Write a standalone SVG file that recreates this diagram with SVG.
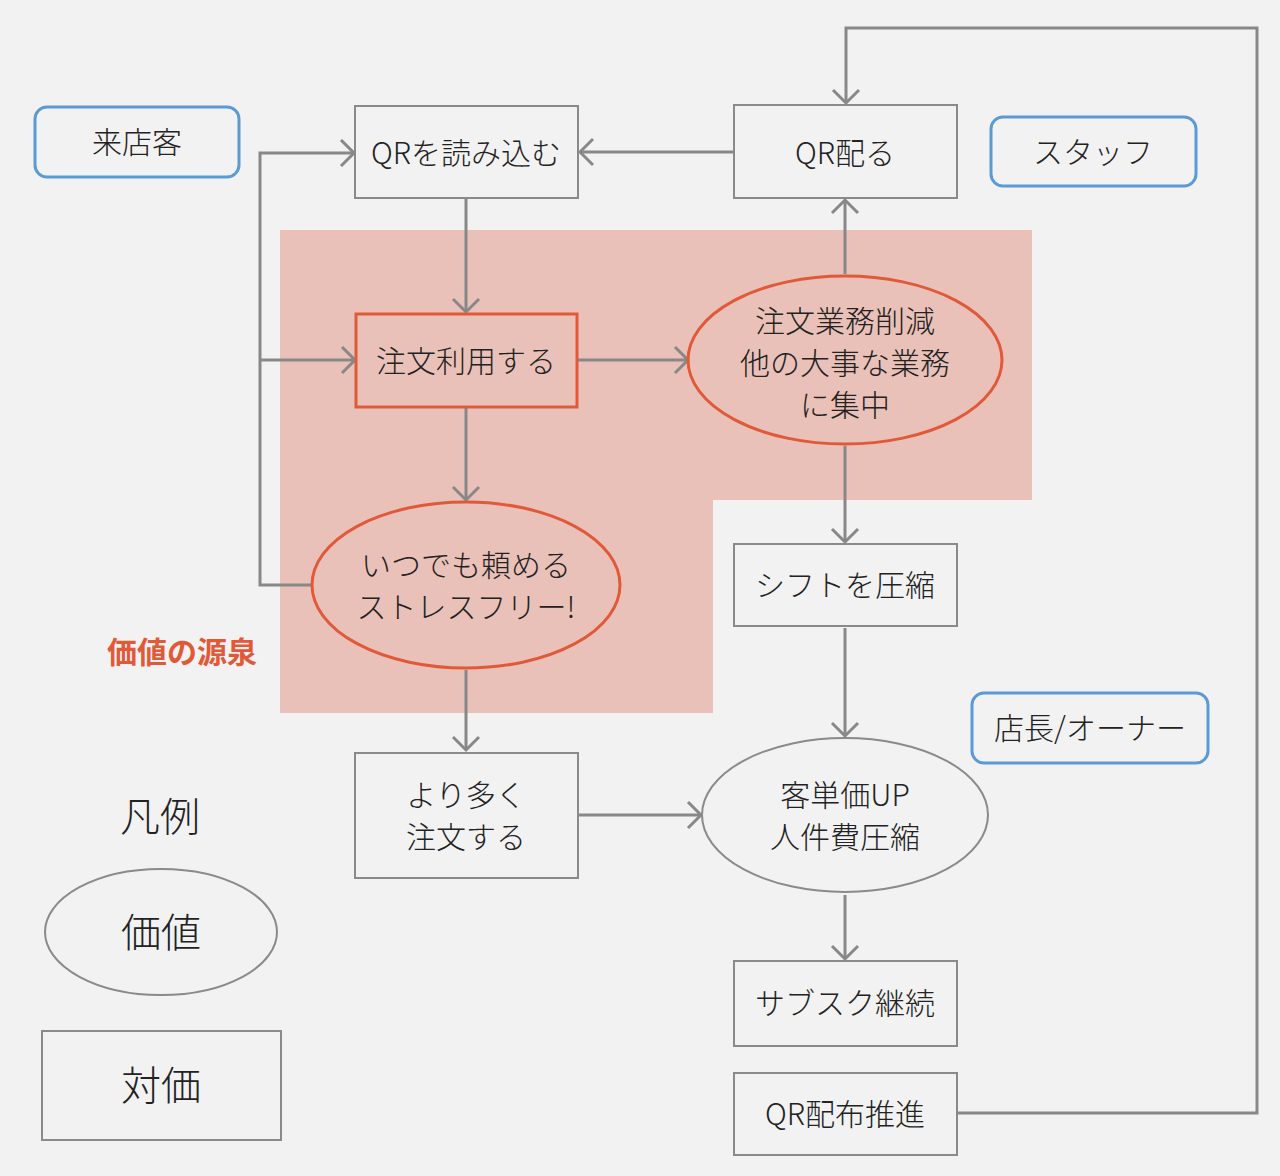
<svg xmlns="http://www.w3.org/2000/svg" width="1280" height="1176" viewBox="0 0 1280 1176">
<defs>
<style>
text{font-family:"Noto Sans CJK JP","Noto Sans",sans-serif;fill:#222;text-anchor:middle;dominant-baseline:central;font-size:30px;font-weight:300;}
.box{fill:none;stroke:#8a8a8a;stroke-width:2;}
.actor{fill:none;stroke:#5b9bd5;stroke-width:3;}
.hot{fill:none;stroke:#e05a3a;stroke-width:3;}
.val{fill:none;stroke:#8a8a8a;stroke-width:2;}
.conn{fill:none;stroke:#888;stroke-width:3;}
.arr{marker-end:url(#ah);}
</style>
<marker id="ah" markerUnits="userSpaceOnUse" markerWidth="30" markerHeight="30" viewBox="0 0 30 30" refX="25" refY="15" orient="auto">
<path d="M12,2 L25,15 L12,28" fill="none" stroke="#888" stroke-width="3"/>
</marker>
</defs>
<rect width="1280" height="1176" fill="#f2f2f2"/>
<path d="M280,230 H1032 V500 H713 V713 H280 Z" fill="#eac1b8"/>
<text x="182" y="650" style="fill:#e05a3a;font-weight:bold;font-size:30px">価値の源泉</text>

<g id="connectors">
<line class="conn arr" x1="733" y1="152" x2="580" y2="152"/>
<polyline class="conn arr" points="312,585 260,585 260,153 354,153"/>
<line class="conn arr" x1="260" y1="360" x2="355" y2="360"/>
<line class="conn arr" x1="466" y1="199" x2="466" y2="312"/>
<line class="conn arr" x1="578" y1="360" x2="688" y2="360"/>
<line class="conn arr" x1="466" y1="408" x2="466" y2="500"/>
<line class="conn arr" x1="845" y1="274" x2="845" y2="200"/>
<line class="conn arr" x1="845" y1="446" x2="845" y2="542"/>
<line class="conn arr" x1="466" y1="670" x2="466" y2="750"/>
<line class="conn arr" x1="845" y1="628" x2="845" y2="736"/>
<line class="conn arr" x1="579" y1="815" x2="701" y2="815"/>
<line class="conn arr" x1="845" y1="895" x2="845" y2="959"/>
<polyline class="conn arr" points="958,1113 1257,1113 1257,28 846,28 846,103"/>
</g>

<g id="raiten"><rect class="actor" x="35" y="107" width="204" height="70" rx="12"/><text x="137" y="140">来店客</text></g>
<g id="staff"><rect class="actor" x="991" y="117" width="205" height="69" rx="12"/><text x="1093" y="150">スタッフ</text></g>
<g id="owner"><rect class="actor" x="972" y="693" width="236" height="70" rx="12"/><text x="1090" y="726">店長/オーナー</text></g>

<g id="qr-read"><rect class="box" x="355" y="106" width="223" height="92"/><text x="466" y="151">QRを読み込む</text></g>
<g id="qr-give"><rect class="box" x="734" y="105" width="223" height="93"/><text x="845" y="151">QR配る</text></g>
<g id="order-use"><rect class="hot" x="356" y="314" width="221" height="93"/><text x="466" y="359">注文利用する</text></g>
<g id="reduce"><ellipse class="hot" cx="845" cy="360" rx="157" ry="84"/><text x="845" y="319">注文業務削減</text><text x="845" y="361">他の大事な業務</text><text x="845" y="403">に集中</text></g>
<g id="anytime"><ellipse class="hot" cx="466" cy="585" rx="154" ry="83"/><text x="466" y="563">いつでも頼める</text><text x="466" y="605">ストレスフリー!</text></g>
<g id="shift"><rect class="box" x="734" y="544" width="223" height="82"/><text x="845" y="583">シフトを圧縮</text></g>
<g id="more-order"><rect class="box" x="355" y="753" width="223" height="125"/><text x="466" y="793">より多く</text><text x="466" y="835">注文する</text></g>
<g id="unit-price"><ellipse class="val" cx="845" cy="815" rx="143" ry="77"/><text x="845" y="793">客単価UP</text><text x="845" y="835">人件費圧縮</text></g>
<g id="subsc"><rect class="box" x="734" y="961" width="223" height="85"/><text x="845" y="1001">サブスク継続</text></g>
<g id="qr-promo"><rect class="box" x="734" y="1073" width="223" height="82"/><text x="845" y="1112">QR配布推進</text></g>

<g id="legend">
<text x="160" y="814" style="font-size:40px">凡例</text>
<g id="legend-value"><ellipse class="val" cx="161" cy="932" rx="116" ry="63"/><text x="161" y="930" style="font-size:40px">価値</text></g>
<g id="legend-price"><rect class="box" x="42" y="1031" width="239" height="109"/><text x="161" y="1083" style="font-size:40px">対価</text></g>
</g>
</svg>
